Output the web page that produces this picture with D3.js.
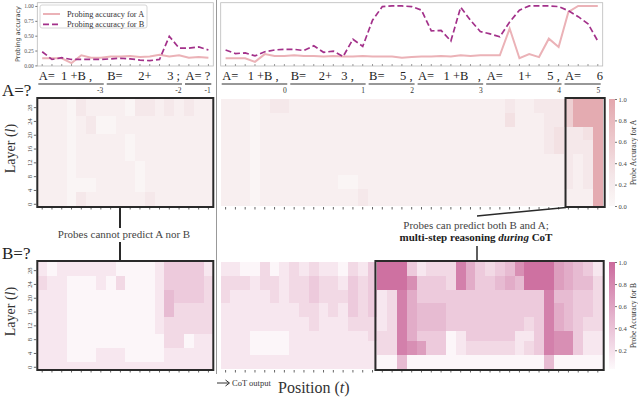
<!DOCTYPE html>
<html>
<head>
<meta charset="utf-8">
<script src="https://cdn.jsdelivr.net/npm/d3@7"></script>
<style>
body { margin: 0; background: #fff; }
svg { opacity: 0.999; }
svg text { font-family: "Liberation Serif", "Times New Roman", serif; fill: #222; }
.pre { white-space: pre; }
</style>
</head>
<body>
<script>
const WIDTH = 640, HEIGHT = 397

// ---- data ----
const layers = d3.range(30, -1, -1)          // heatmap rows, top to bottom
const layerTicks = [0, 4, 8, 12, 16, 20, 24, 28]
const leftPositions = d3.range(18)
const rightPositions = d3.range(39)

const leftGroups = ["A=  1 +B ,", "B=     2+     3 ;", "A= ?"]
const leftGroupSpans = [[0, 6], [7, 14], [15, 17]]
const leftGroupLabels = ["-3", "-2", "-1"]
const rightGroups = ["A=   1 +B ,", "B=    2+   3 ,", "B=     5 ,", "A=   1 +B   ,", "A=     1+     5 ,", "A=     6"]
const rightGroupSpans = [[0, 6], [7, 14], [15, 19], [20, 26], [27, 34], [35, 38]]
const rightGroupLabels = ["0", "1", "2", "3", "4", "5"]

const accTicks = [0, 0.25, 0.5, 0.75, 1]
const accALeft = [0.12, 0.12, 0.12, 0.04, 0.17, 0.13, 0.13, 0.15, 0.15, 0.16, 0.14, 0.15, 0.18, 0.15, 0.17, 0.13, 0.14, 0.13]
const accBLeft = [0.23, 0.10, 0.13, 0.10, 0.10, 0.10, 0.10, 0.11, 0.12, 0.11, 0.09, 0.08, 0.10, 0.49, 0.29, 0.29, 0.31, 0.26]
const accARight = [0.12, 0.12, 0.12, 0.06, 0.19, 0.16, 0.16, 0.17, 0.16, 0.16,
  0.15, 0.16, 0.15, 0.15, 0.16, 0.15, 0.15, 0.15, 0.13, 0.14,
  0.15, 0.15, 0.16, 0.15, 0.17, 0.16, 0.17, 0.17, 0.17, 0.62,
  0.12, 0.19, 0.14, 0.45, 0.31, 0.90, 1.0, 1.0, 1.0]
const accBRight = [0.26, 0.20, 0.21, 0.16, 0.23, 0.26, 0.27, 0.27, 0.25, 0.33,
  0.22, 0.24, 0.15, 0.44, 0.32, 0.76, 0.99, 1.0, 1.0, 0.99,
  0.93, 0.58, 0.59, 0.41, 0.98, 0.76, 0.57, 0.53, 0.48, 0.73,
  0.93, 1.0, 1.0, 1.0, 0.99, 0.92, 0.82, 0.70, 0.41]

// heatmap cells: one string per layer (30 -> 0), one digit per position, value ~ (digit + .5) / 10
const probeALeft = [
  "1110211110 22121211", "1110211110 22121211", "1110211110 22121211", "1110211110 22121211", "1110211110 22121211",
  "1110120011 11111111", "1110120011 11111111", "1110120011 11111111", "1110120011 11111111", "1110120011 11111111",
  "1110111110 11111111", "1110111110 11111111", "1110111110 11111111", "1110111110 11111111",
  "1110111110 11111111", "1110111110 11111111", "1110111110 11111111", "1110111110 11111111",
  "1110111111 01111111", "1110111111 01111111", "1110111111 01111111", "1110111111 01111111", "1110111111 01111111",
  "1110001111 01111111", "1110001111 01111111", "1110001111 01111111", "1110001111 01111111",
  "1110211111 12111111", "1110211111 12111111", "1110211111 12111111", "1110211111 12111111"
]
const probeARight = [
  "1110122111 1111111111 1111111112 112225999", "1110122111 1111111111 1111111112 112225999",
  "1110122111 1111111111 1111111112 112225999", "1110122111 1111111111 1111111112 112225999",
  "1110111111 1111111111 1111111113 111225999", "1110111111 1111111111 1111111113 111225999",
  "1110111111 1111111111 1111111113 111225999", "1110111111 1111111111 1111111113 111225999",
  "1110111111 1111111111 1111111111 111232239", "1110111111 1111111111 1111111111 111232239",
  "1110111111 1111111111 1111111111 111232239", "1110111111 1111111111 1111111111 111232239",
  "1110111111 1111111111 1111111111 111232229", "1110111111 1111111111 1111111111 111232229",
  "1110111111 1111111111 1111111111 111232229", "1110111111 1111111111 1111111111 111232229",
  "1110111111 1111111111 1111111111 111112129", "1110111111 1111111111 1111111111 111112129",
  "1110111111 1111111111 1111111111 111112129", "1110111111 1111111111 1111111111 111112129",
  "1110111111 1111111111 1111111111 111112129", "1110111111 1111111111 1111111111 111112129",
  "1110111111 1100111111 1111111111 111112129", "1110111111 1100111111 1111111111 111112129",
  "1110111111 1100111111 1111111111 111112129", "1110111111 1100111111 1111111111 111112129",
  "1110111111 1111211111 1111111111 111111119", "1110111111 1111211111 1111111111 111111119",
  "1110111111 1111211111 1111111111 111111119", "1110111111 1111211111 1111111111 111111119",
  "1110111111 1111211111 1111111111 111111119"
]
const probeBLeft = [
  "1011111100 00133331", "1011111100 00133331", "1011111100 00133331", "1011111100 00133331",
  "2110001020 00133332", "2110001020 00133332", "2110001020 00133332", "2110001020 00133332",
  "1110000000 00143332", "1110000000 00143332", "1110000000 00143332", "1110000000 00143332",
  "1110000000 00142222", "1110000000 00142222", "1110000000 00142222", "1110000000 00142222",
  "1110000000 00122222", "1110000000 00122222", "1110000000 00122222", "1110000000 00122222", "1110000000 00122222",
  "1110000000 00022011", "1110000000 00022011", "1110000000 00022011", "1110000000 00022011",
  "1110001110 00011111", "1110001110 00011111", "1110001110 00011111", "1110001110 00011111",
  "1111111111 11111111", "1111111111 11111111"
]
const probeBRight = [
  "1100201212 1102139993 1222853234 799965431", "1100201212 1102139993 1222853234 799965431",
  "1100201212 1102139993 1222853234 799965431", "1100201212 1102139993 1222853234 799965431",
  "2221221223 2213239997 3332853345 499965442", "2221221223 2213239997 3332853345 499965442",
  "2221221223 2213239997 3332853345 499965442", "2221221223 2213239997 3332853345 499965442",
  "2111121223 2223231285 3333333333 333844332", "2111121223 2223231285 3333333333 333844332",
  "2111121223 2223231285 3333333333 333844332", "2111121223 2223231285 3333333333 333844332",
  "1111111122 1213231285 4443333333 333854332", "1111111122 1213231285 4443333333 333854332",
  "1111111122 1213231285 4443333333 333854332", "1111111122 1213231285 4443333333 333854332",
  "1111111112 1112221285 4443333333 323854322", "1111111112 1112221285 4443333333 323854322",
  "1111111112 1112221285 4443333333 323854322", "1111111112 1112221285 4443333333 323854322",
  "1110000111 1111122285 3330133333 113877311", "1110000111 1111122285 3330133333 113877311",
  "1110000111 1111122285 3330133333 113877311",
  "1110000111 1111112287 6330122222 123877311", "1110000111 1111112287 6330122222 123877311",
  "1110000111 1111112287 6330122222 123877311", "1110000111 1111112287 6330122222 123877311",
  "1111111111 1111110040 0000000000 000400000", "1111111111 1111110040 0000000000 000400000",
  "1111111111 1111110040 0000000000 000400000", "1111111111 1111110040 0000000000 000400000"
]
const cbTicksA = [0, 0.2, 0.4, 0.6, 0.8, 1.0]
const cbTicksB = [0.2, 0.4, 0.6, 0.8, 1.0]

// ---- scales ----
const parse = rows => rows.map(r => r.replace(/\s/g, '').split('').map(c => (+c + 0.5) / 10))

const svg = d3.select("body").append("svg").attr("width", WIDTH).attr("height", HEIGHT)

const xLeft = d3.scaleBand().domain(leftPositions).range([37.3, 213.3])
const xRight = d3.scaleBand().domain(rightPositions).range([220.7, 602.7])
const yA = d3.scaleBand().domain(layers).range([99, 206])
const yB = d3.scaleBand().domain(layers).range([262, 369])
const yAcc = d3.scaleLinear().domain([-0.01, 1.055]).range([66, 2.7])
const colorA = d3.scaleLinear().domain([0, 0.3, 1]).range(["#fbf8f8", "#f4e5e7", "#e3a7ad"])
const colorB = d3.scaleLinear().domain([0.03, 1]).range(["#fdf9fb", "#cb6a9c"])

// vertical separator
svg.append("line").attr("x1", 216.5).attr("x2", 216.5).attr("y1", 0).attr("y2", 374)
  .attr("stroke", "#999").attr("stroke-width", 1)

// ---- line charts ----
function lineChart(x, a, b) {
  const [x0, x1] = x.range()
  svg.append("rect").attr("x", x0).attr("y", yAcc.range()[1]).attr("width", x1 - x0)
    .attr("height", yAcc.range()[0] - yAcc.range()[1]).attr("fill", "none").attr("stroke", "#bbb").attr("stroke-width", 0.8)
  svg.append("g").attr("transform", `translate(0,${yAcc.range()[0]})`)
    .call(d3.axisBottom(x).tickSize(-2).tickFormat(""))
    .call(g => g.select(".domain").remove())
    .call(g => g.selectAll("line").attr("stroke", "#999"))
  const line = d3.line().x((d, i) => x(i) + x.bandwidth() / 2).y(d => yAcc(d))
  svg.append("path").datum(a).attr("d", line).attr("fill", "none")
    .attr("stroke", "#ebb2b7").attr("stroke-width", 2)
  svg.append("path").datum(b).attr("d", line).attr("fill", "none")
    .attr("stroke", "#a3318a").attr("stroke-width", 1.7).attr("stroke-dasharray", "6,3")
}
lineChart(xLeft, accALeft, accBLeft)
lineChart(xRight, accARight, accBRight)

svg.append("g").attr("transform", `translate(${xLeft.range()[0]},0)`)
  .call(d3.axisLeft(yAcc).tickValues(accTicks).tickFormat(d3.format(".2f")).tickSize(2))
  .call(g => g.select(".domain").remove())
  .call(g => g.selectAll("line").attr("stroke", "#777"))
  .call(g => g.selectAll("text").attr("font-size", 5.5).style("fill", "#555").attr("x", -3.5))
svg.append("text").attr("transform", "translate(20,34) rotate(-90)").attr("text-anchor", "middle")
  .attr("font-size", 6.5).style("font-family", "DejaVu Sans, sans-serif").style("fill", "#444").text("Probing accuracy")

// legend
const lg = svg.append("g")
lg.append("rect").attr("x", 40).attr("y", 5).attr("width", 107).attr("height", 23).attr("rx", 2)
  .attr("fill", "#fff").attr("stroke", "#ccc").attr("stroke-width", 0.8)
lg.append("line").attr("x1", 43).attr("x2", 60).attr("y1", 14).attr("y2", 14).attr("stroke", "#ebb2b7").attr("stroke-width", 2)
lg.append("line").attr("x1", 43).attr("x2", 60).attr("y1", 24.3).attr("y2", 24.3).attr("stroke", "#a3318a")
  .attr("stroke-width", 1.7).attr("stroke-dasharray", "6,3")
lg.append("text").attr("x", 67).attr("y", 17).attr("font-size", 8.3).style("fill", "#333").text("Probing accuracy for A")
lg.append("text").attr("x", 67).attr("y", 27.3).attr("font-size", 8.3).style("fill", "#333").text("Probing accuracy for B")

// ---- token row ----
function tokens(x, groups, spans, labels) {
  const g = svg.append("g")
  groups.forEach((t, i) => {
    const [a, b] = spans[i]
    const x0 = x(a), x1 = x(b) + x.bandwidth()
    g.append("text").attr("class", "pre").attr("x", x0 + 1.5).attr("y", 80).attr("font-size", 12.5)
      .style("fill", "#222").text(t)
    g.append("line").attr("x1", x0 + 1).attr("x2", x1 - 2).attr("y1", 84).attr("y2", 84)
      .attr("stroke", "#333").attr("stroke-width", 1.2)
    g.append("text").attr("x", x1 - 2.5).attr("y", 93).attr("text-anchor", "end").attr("font-size", 7.5)
      .style("fill", "#333").text(labels[i])
  })
}
tokens(xLeft, leftGroups, leftGroupSpans, leftGroupLabels)
tokens(xRight, rightGroups, rightGroupSpans, rightGroupLabels)

// ---- heatmaps ----
function heatmap(rows, x, y, color) {
  const cells = parse(rows).flatMap((row, i) => row.map((v, j) => ({ layer: layers[i], pos: j, v })))
  svg.append("g").selectAll("rect").data(cells).join("rect")
    .attr("x", d => x(d.pos)).attr("y", d => y(d.layer))
    .attr("width", x.bandwidth() + 0.4).attr("height", y.bandwidth() + 0.4)
    .attr("fill", d => color(d.v)).attr("shape-rendering", "crispEdges")
  svg.append("g").attr("transform", `translate(0,${y.range()[1] + 1})`)
    .call(d3.axisBottom(x).tickSize(2.5).tickFormat(""))
    .call(g => g.select(".domain").remove())
    .call(g => g.selectAll("line").attr("stroke", "#666"))
}
heatmap(probeALeft, xLeft, yA, colorA)
heatmap(probeARight, xRight, yA, colorA)
heatmap(probeBLeft, xLeft, yB, colorB)
heatmap(probeBRight, xRight, yB, colorB)

function layerAxis(y, label) {
  svg.append("g").attr("transform", `translate(${xLeft.range()[0] - 1},0)`)
    .call(d3.axisLeft(y).tickValues(layerTicks).tickSize(2.5))
    .call(g => g.select(".domain").remove())
    .call(g => g.selectAll("line").attr("stroke", "#666"))
    .call(g => g.selectAll("text").attr("x", 0).attr("dy", 0).attr("text-anchor", "middle")
      .attr("transform", "translate(-4.5,0) rotate(-90)").attr("font-size", 6.5).style("fill", "#444"))
  const cy = (y.range()[0] + y.range()[1]) / 2 - 4
  const t = svg.append("text").attr("transform", `translate(15,${cy}) rotate(-90)`).attr("text-anchor", "middle")
    .attr("font-size", 14).style("fill", "#333")
  t.append("tspan").text("Layer (")
  t.append("tspan").attr("font-style", "italic").text("l")
  t.append("tspan").text(")")
  svg.append("text").attr("x", 2).attr("y", y.range()[0] - 3).attr("font-size", 17).style("fill", "#222").text(label)
}
layerAxis(yA, "A=?")
layerAxis(yB, "B=?")

// highlight boxes
function box(x0, x1, y, w) {
  svg.append("rect").attr("x", x0).attr("y", y.range()[0] - 1).attr("width", x1 - x0)
    .attr("height", y.range()[1] - y.range()[0] + 2).attr("fill", "none").attr("stroke", "#2a2a2a").attr("stroke-width", w)
}
box(xLeft.range()[0], xLeft.range()[1], yA, 2)
box(xLeft.range()[0], xLeft.range()[1], yB, 2)
box(xRight(35) + 2, xRight.range()[1] + 2, yA, 2)
box(xRight(16) - 2, xRight.range()[1] + 1, yB, 2)

// colorbars
function colorbar(color, y, ticks, id, label) {
  const d = color.domain(), d0 = d[0], d1 = d[d.length - 1]
  const grad = svg.append("defs").append("linearGradient").attr("id", id)
    .attr("x1", 0).attr("x2", 0).attr("y1", 1).attr("y2", 0)
  d3.range(0, 1.01, 0.1).forEach(t => grad.append("stop").attr("offset", t).attr("stop-color", color(d0 + t * (d1 - d0))))
  const cb = d3.scaleLinear().domain([d0, d1]).range([y.range()[1], y.range()[0]])
  svg.append("rect").attr("x", 609).attr("y", y.range()[0]).attr("width", 6)
    .attr("height", y.range()[1] - y.range()[0]).attr("fill", `url(#${id})`)
  svg.append("g").attr("transform", "translate(615,0)")
    .call(d3.axisRight(cb).tickValues(ticks).tickFormat(d3.format(".1f")).tickSize(2))
    .call(g => g.select(".domain").remove())
    .call(g => g.selectAll("line").attr("stroke", "#777"))
    .call(g => g.selectAll("text").attr("x", 3.5).attr("font-size", 6.5).style("fill", "#444"))
  const cy = (y.range()[0] + y.range()[1]) / 2
  svg.append("text").attr("transform", `translate(636,${cy}) rotate(-90)`).attr("text-anchor", "middle")
    .attr("font-size", 7.5).style("fill", "#333").text(label)
}
colorbar(colorA, yA, cbTicksA, "gradA", "Probe Accuracy for A")
colorbar(colorB, yB, cbTicksB, "gradB", "Probe Accuracy for B")

// annotations
const ann = svg.append("g").attr("stroke", "#2a2a2a").attr("stroke-width", 2)
ann.append("line").attr("x1", 120).attr("x2", 120).attr("y1", 208).attr("y2", 228)
ann.append("line").attr("x1", 120).attr("x2", 120).attr("y1", 242).attr("y2", 261)
ann.append("line").attr("x1", 566).attr("y1", 207.5).attr("x2", 477).attr("y2", 216).attr("stroke-width", 1.5)
ann.append("line").attr("x1", 477).attr("x2", 477).attr("y1", 246).attr("y2", 261).attr("stroke-width", 1.5)

svg.append("text").attr("x", 124).attr("y", 238).attr("text-anchor", "middle").attr("font-size", 11)
  .style("fill", "#444").text("Probes cannot predict A nor B")
svg.append("text").attr("x", 476).attr("y", 229).attr("text-anchor", "middle").attr("font-size", 11)
  .style("fill", "#444").text("Probes can predict both B and A;")
const t2 = svg.append("text").attr("x", 476).attr("y", 241).attr("text-anchor", "middle").attr("font-size", 11)
  .attr("font-weight", "bold").style("fill", "#222")
t2.append("tspan").text("multi-step reasoning ")
t2.append("tspan").attr("font-style", "italic").text("during")
t2.append("tspan").text(" CoT")

// bottom labels
svg.append("path").attr("d", "M217,383 H229 M225.5,380 L229.5,383 L225.5,386").attr("fill", "none")
  .attr("stroke", "#333").attr("stroke-width", 1)
svg.append("text").attr("x", 232).attr("y", 386).attr("font-size", 8.5).style("fill", "#333").text("CoT output")
const pos = svg.append("text").attr("x", 278).attr("y", 393).attr("font-size", 16).style("fill", "#333")
pos.append("tspan").text("Position (")
pos.append("tspan").attr("font-style", "italic").text("t")
pos.append("tspan").text(")")
</script>
</body>
</html>
